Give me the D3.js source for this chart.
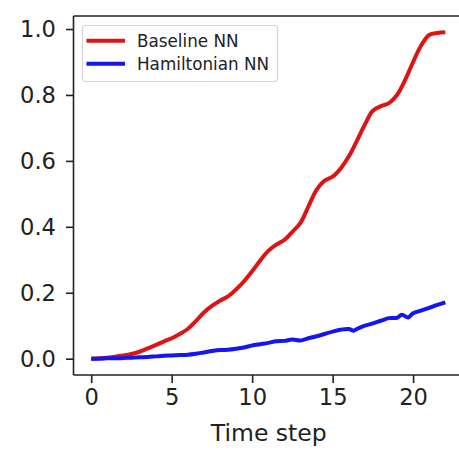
<!DOCTYPE html>
<html>
<head>
<meta charset="utf-8">
<script src="https://cdn.jsdelivr.net/npm/d3@7/dist/d3.min.js"></script>
<style>
  html, body { margin: 0; padding: 0; background: #fff; }
  svg { display: block; font-family: "DejaVu Sans", sans-serif; }
</style>
</head>
<body>
<svg id="chart" width="459" height="451"></svg>
<script>
// Error growth over rollout time steps for the two models
const baselineSteps = [0, 0.5, 1, 1.5, 2, 2.5, 3, 3.5, 4, 4.5, 5, 5.5, 6, 6.5, 7, 7.5, 8, 8.5, 9, 9.5,
  10, 10.5, 11, 11.5, 12, 12.5, 13, 13.5, 14, 14.5, 15, 15.5, 16, 16.5, 17, 17.5, 18, 18.5, 19, 19.5,
  20, 20.5, 21, 21.5, 22];
const baselineValues = [0.000, 0.001, 0.003, 0.006, 0.010, 0.014, 0.021, 0.031, 0.041, 0.052, 0.062, 0.075,
  0.090, 0.114, 0.140, 0.160, 0.176, 0.189, 0.210, 0.235, 0.265, 0.298, 0.327, 0.346, 0.360, 0.385, 0.412,
  0.462, 0.512, 0.540, 0.552, 0.577, 0.613, 0.660, 0.710, 0.752, 0.766, 0.775, 0.800, 0.845, 0.900, 0.950,
  0.982, 0.988, 0.990];

const hamiltonianSteps = [0, 0.5, 1, 1.5, 2, 2.5, 3, 3.5, 4, 4.5, 5, 5.5, 6, 6.5, 7, 7.5, 8, 8.5, 9, 9.5,
  10, 10.5, 11, 11.5, 12, 12.5, 13, 13.5, 14, 14.5, 15, 15.5, 16, 16.3, 16.5, 17, 17.5, 18, 18.5, 19, 19.3,
  19.7, 20, 20.5, 21, 21.5, 22];
const hamiltonianValues = [0.000, 0.000, 0.001, 0.001, 0.002, 0.003, 0.004, 0.005, 0.007, 0.009, 0.010,
  0.011, 0.012, 0.015, 0.019, 0.023, 0.026, 0.027, 0.030, 0.034, 0.040, 0.044, 0.048, 0.053, 0.054, 0.058,
  0.055, 0.062, 0.068, 0.075, 0.082, 0.088, 0.090, 0.085, 0.090, 0.100, 0.107, 0.115, 0.123, 0.124, 0.133,
  0.125, 0.138, 0.146, 0.154, 0.163, 0.171];

const seriesNames = ["Baseline NN", "Hamiltonian NN"];
const seriesColors = ["#de1414", "#1414f5"];
const xTicks = [0, 5, 10, 15, 20];
const yTicks = [0.0, 0.2, 0.4, 0.6, 0.8, 1.0];
const xLabel = "Time step";

const svg = d3.select("#chart");
const plot = { left: 73.5, right: 463, top: 16, bottom: 375 };

const x = d3.scaleLinear().domain([-1.1, 23.1]).range([plot.left, plot.right]);
const y = d3.scaleLinear().domain([-0.0495, 1.0395]).range([plot.bottom, plot.top]);

const series = [
  { name: seriesNames[0], color: seriesColors[0], pts: baselineSteps.map((t, i) => [t, baselineValues[i]]) },
  { name: seriesNames[1], color: seriesColors[1], pts: hamiltonianSteps.map((t, i) => [t, hamiltonianValues[i]]) }
];

// axes
const tickFont = 22.6;
const xAxis = d3.axisBottom(x).tickValues(xTicks).tickFormat(d3.format("d")).tickSizeOuter(0).tickSizeInner(8).tickPadding(6);
const yAxis = d3.axisLeft(y).tickValues(yTicks).tickFormat(d3.format(".1f")).tickSizeOuter(0).tickSizeInner(7.5).tickPadding(10);

const gx = svg.append("g").attr("transform", `translate(0,${plot.bottom})`).call(xAxis);
const gy = svg.append("g").attr("transform", `translate(${plot.left},0)`).call(yAxis);
[gx, gy].forEach(g => {
  g.select(".domain").remove();
  g.selectAll(".tick line").attr("stroke", "#222").attr("stroke-width", 1.6);
  g.selectAll(".tick text").attr("fill", "#222").style("font-size", tickFont + "px")
    .style("font-family", "'DejaVu Sans', sans-serif");
});
gy.selectAll(".tick text").attr("dy", "0.34em");

// lines
const line = d3.line().x(d => x(d[0])).y(d => y(d[1])).curve(d3.curveCatmullRom.alpha(0.5));
svg.append("g").selectAll("path").data(series).join("path")
  .attr("d", d => line(d.pts))
  .attr("fill", "none")
  .attr("stroke", d => d.color)
  .attr("stroke-width", 4)
  .attr("stroke-linejoin", "round")
  .attr("stroke-linecap", "butt");

// spines
const spines = svg.append("g").attr("stroke", "#222").attr("stroke-width", 1.6).attr("fill", "none");
spines.append("line").attr("x1", plot.left).attr("x2", plot.left).attr("y1", plot.top).attr("y2", plot.bottom);
spines.append("line").attr("x1", plot.left).attr("x2", plot.right).attr("y1", plot.bottom).attr("y2", plot.bottom);
spines.append("line").attr("x1", plot.left).attr("x2", plot.right).attr("y1", plot.top).attr("y2", plot.top);
spines.append("line").attr("x1", plot.right).attr("x2", plot.right).attr("y1", plot.top).attr("y2", plot.bottom);

// x label
svg.append("text")
  .attr("x", (x(0) + x(22)) / 2 + 0.5)
  .attr("y", 441)
  .attr("text-anchor", "middle")
  .attr("fill", "#222")
  .style("font-size", "23.5px")
  .text(xLabel);

// legend
const legend = svg.append("g").attr("transform", "translate(82.5,25.5)");
legend.append("rect")
  .attr("width", 195).attr("height", 56).attr("rx", 3)
  .attr("fill", "#fff").attr("fill-opacity", 0.8)
  .attr("stroke", "#d6d6d6").attr("stroke-width", 1.2);
const items = legend.selectAll("g.item").data(series).join("g")
  .attr("class", "item")
  .attr("transform", (d, i) => `translate(0,${15.2 + i * 23})`);
items.append("line")
  .attr("x1", 4).attr("x2", 42.5)
  .attr("stroke", d => d.color).attr("stroke-width", 4);
items.append("text")
  .attr("x", 54.5).attr("dy", "0.35em")
  .attr("fill", "#222")
  .style("font-size", "16.8px")
  .text(d => d.name);
</script>
</body>
</html>
